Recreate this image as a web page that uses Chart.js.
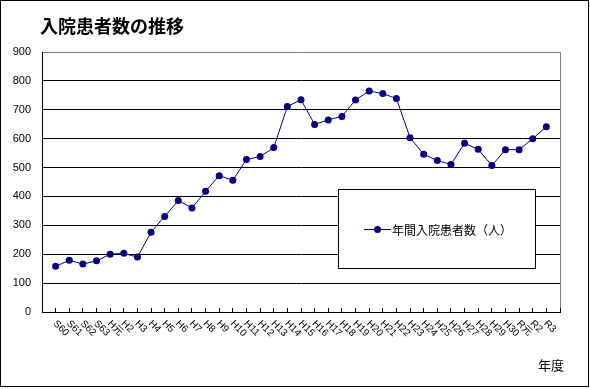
<!DOCTYPE html>
<html>
<head>
<meta charset="utf-8">
<script src="https://cdn.jsdelivr.net/npm/chart.js@4.4.1/dist/chart.umd.min.js"></script>
<style>
  html,body{margin:0;padding:0;background:#fff}
  #wrap{position:relative;width:590px;height:389px}
</style>
</head>
<body>
<div id="wrap"><canvas id="c" width="590" height="389"></canvas></div>
<script>
// ── data ────────────────────────────────────────────────────────────────
const TITLE = "入院患者数の推移";
const X_TITLE = "年度";
const SERIES_LABEL = "年間入院患者数（人）";
const years = ["S60","S61","S62","S63","H元","H2","H3","H4","H5","H6","H7","H8","H9","H10",
  "H11","H12","H13","H14","H15","H16","H17","H18","H19","H20","H21","H22","H23","H24","H25",
  "H26","H27","H28","H29","H30","R元","R2","R3"];
const patients = [158,179,166,177,200,203,190,276,331,386,360,418,472,456,
  528,538,569,711,735,649,665,677,734,765,756,739,603,546,524,
  511,584,563,507,562,562,600,641];
const yTicks = [0,100,200,300,400,500,600,700,800,900];

const C = { navy:"#000080", ink:"#000", gray:"#808080" };
const JP = '"Noto Sans CJK JP", sans-serif';
const LAT = '"Liberation Sans", "Noto Sans CJK JP", sans-serif';

// one empty slot each side, like the original axis
const labels = ["", ...years, ""];
const data = [null, ...patients, null];
const last = labels.length - 1;

const deco = {
  id:"deco",
  afterDraw(chart){
    const { ctx, scales:{ x } } = chart;
    ctx.save();
    // outer frame
    ctx.strokeStyle = C.ink; ctx.lineWidth = 1;
    ctx.strokeRect(0.5, 0.5, 588, 386);
    // title
    ctx.fillStyle = C.ink;
    ctx.font = `bold 18px ${JP}`;
    ctx.textAlign = "left"; ctx.textBaseline = "middle";
    ctx.fillText(TITLE, 40, 26);
    // rotated category labels
    ctx.font = `10px ${LAT}`;
    for(let i=1;i<last;i++){
      const px = x.getPixelForValue(i);
      ctx.save();
      ctx.translate(px - 1, 322);
      ctx.rotate(Math.PI/4);
      ctx.textAlign = "left"; ctx.textBaseline = "middle";
      ctx.fillText(labels[i], 0, 0);
      ctx.restore();
    }
    // axis title
    ctx.font = `13px ${JP}`;
    ctx.textAlign = "center";
    ctx.fillText(X_TITLE, 551, 365);
    ctx.restore();
  },
  afterDatasetsDraw(chart){
    const { ctx } = chart;
    ctx.save();
    ctx.fillStyle = "#fff"; ctx.strokeStyle = C.ink; ctx.lineWidth = 1;
    ctx.fillRect(338.5, 189.5, 197, 79);
    ctx.strokeRect(338.5, 189.5, 197, 79);
    ctx.strokeStyle = C.navy;
    ctx.beginPath(); ctx.moveTo(364, 229.5); ctx.lineTo(391, 229.5); ctx.stroke();
    ctx.fillStyle = C.navy;
    ctx.beginPath(); ctx.arc(377.5, 229.5, 3.5, 0, Math.PI*2); ctx.fill();
    ctx.fillStyle = C.ink;
    ctx.font = `12px ${JP}`;
    ctx.textAlign = "left"; ctx.textBaseline = "middle";
    ctx.fillText(SERIES_LABEL, 392, 230);
    ctx.restore();
  }
};

new Chart(document.getElementById("c"), {
  type:"line",
  data:{ labels, datasets:[{
    label:SERIES_LABEL, data,
    borderColor:C.navy, borderWidth:1,
    backgroundColor:C.navy, pointBackgroundColor:C.navy, pointBorderColor:C.navy,
    pointRadius:3.5, pointBorderWidth:0, tension:0, spanGaps:false
  }]},
  options:{
    responsive:false, animation:false,
    layout:{ padding:{ left:0, top:52, right:30, bottom:77 } },
    plugins:{ legend:{ display:false }, title:{ display:false }, tooltip:{ enabled:false } },
    scales:{
      x:{
        type:"category", offset:false,
        grid:{
          color:(c)=> c.index===0 ? C.ink : (c.index===last ? C.gray : "rgba(0,0,0,0)"),
          tickColor:C.ink, tickLength:-4, drawTicks:true, lineWidth:1
        },
        border:{ display:true, color:C.ink, width:1 },
        ticks:{ display:false, autoSkip:false },
        afterFit:(s)=>{ s.height = 0; }
      },
      y:{
        min:0, max:900,
        afterBuildTicks:(s)=>{ s.ticks = yTicks.map(v=>({ value:v })); },
        grid:{ color:(c)=> c.tick && c.tick.value===900 ? C.gray : C.ink, drawTicks:false, lineWidth:1 },
        border:{ display:true, color:C.ink, width:1 },
        ticks:{ color:C.ink, padding:11, font:{ family:LAT, size:11 } },
        afterFit:(s)=>{ s.width = 42; }
      }
    }
  },
  plugins:[deco]
});
</script>
</body>
</html>
